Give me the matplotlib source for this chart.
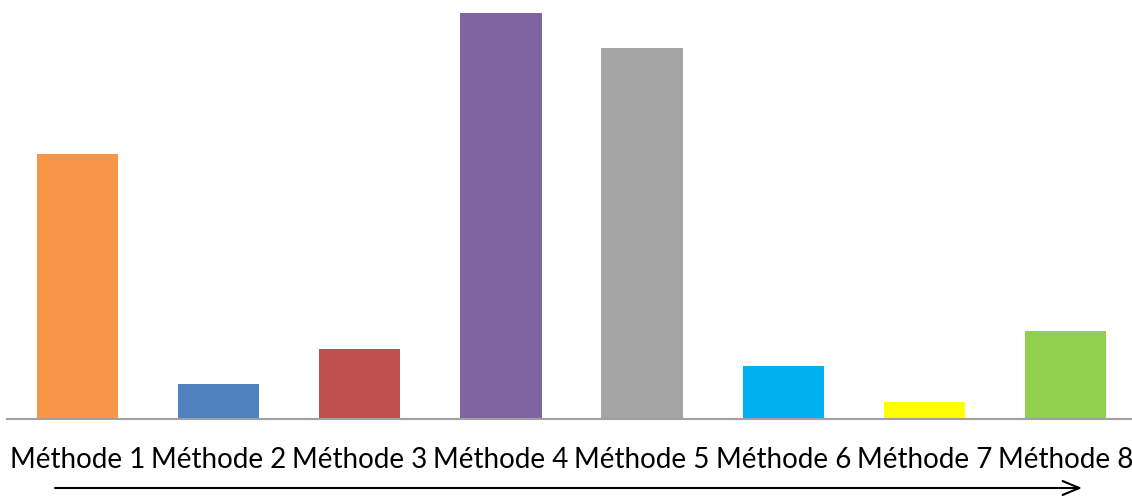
import matplotlib
matplotlib.use("Agg")
import matplotlib.pyplot as plt

categories = ["Méthode 1", "Méthode 2", "Méthode 3", "Méthode 4",
              "Méthode 5", "Méthode 6", "Méthode 7", "Méthode 8"]
values = [265, 35, 70, 406, 371, 53, 17, 88]
colors = ["#F79646", "#4F81BD", "#C0504D", "#8064A2",
          "#A5A5A5", "#00B0F0", "#FFFF00", "#92D050"]

W, H = 1132, 498
fig = plt.figure(figsize=(W / 100, H / 100), dpi=100)
ax = fig.add_axes([7 / W, (H - 419) / H, (1136 - 7) / W, 419 / H])
x = range(len(categories))
ax.bar(x, values, width=0.575, color=colors)
ax.set_xlim(-0.5, len(categories) - 0.5)
ax.set_ylim(0, 419)
for s in ["top", "right", "left"]:
    ax.spines[s].set_visible(False)
ax.spines["bottom"].set_color("#A0A0A0")
ax.spines["bottom"].set_linewidth(1.5)
ax.set_yticks([])
ax.set_xticks(list(x))
ax.set_xticklabels(categories, fontsize=20, family="Lato", color="#000000")
ax.tick_params(axis="x", length=0, pad=20)

ax.annotate("", xy=(1082 / W, (H - 488) / H), xytext=(55 / W, (H - 488) / H),
            xycoords="figure fraction", textcoords="figure fraction",
            arrowprops=dict(arrowstyle="->,head_length=1.2,head_width=0.5",
                            color="black", lw=1.5, shrinkA=0, shrinkB=0))

fig.savefig("out.png", dpi=100)
